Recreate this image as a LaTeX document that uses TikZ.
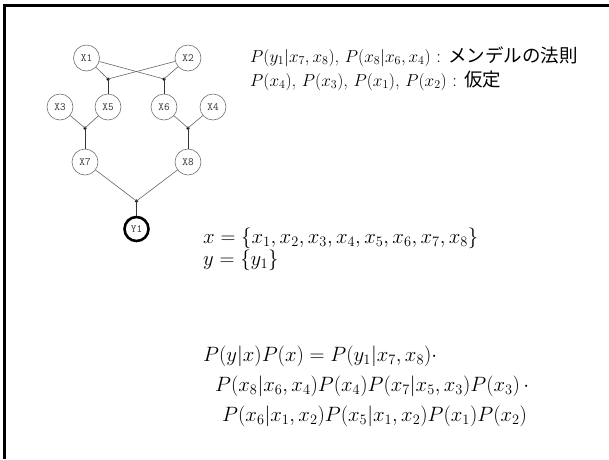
\documentclass[tikz,border=0pt]{standalone}
\usepackage{fontspec}
\newfontfamily\jp{Noto Sans CJK JP}
\begin{document}
\begin{tikzpicture}[x=1pt,y=-1pt,
  var/.style={circle,draw=black!55,line width=0.6pt,minimum size=26pt,inner sep=0pt,text=black!80,font=\ttfamily\fontsize{11}{12}\selectfont},
  obs/.style={var,draw=black,text=black!80,line width=2.6pt,minimum size=24pt},
  edge/.style={draw=black!60,line width=0.6pt},
  stem/.style={draw=black!80,line width=0.9pt},
  junc/.style={circle,fill=black,inner sep=0pt,minimum size=3.5pt},
  toptext/.style={anchor=base west,inner sep=0pt,font=\fontsize{18.5}{20}\selectfont},
  eqtext/.style={anchor=base west,inner sep=0pt,font=\fontsize{20}{22}\selectfont}]
\useasboundingbox (0,0) rectangle (609,459);
\fill[white] (0,0) rectangle (609,459);
\draw[line width=3pt] (4.5,459) -- (4.5,5) -- (609,5);
% nodes
\node[var] (x1) at (86.5,58) {X1};
\node[var] (x2) at (188,58) {X2};
\node[var] (x3) at (60,107) {X3};
\node[var] (x5) at (108,107) {X5};
\node[var] (x6) at (164,107) {X6};
\node[var] (x4) at (213,107) {X4};
\node[var] (x7) at (85,162) {X7};
\node[var] (x8) at (188,162) {X8};
\node[obs] (y1) at (136.5,229) {Y1};
\node[junc] (j5) at (108,79) {};
\node[junc] (j6) at (164,79) {};
\node[junc] (j7) at (85,128) {};
\node[junc] (j8) at (188,128) {};
\node[junc] (jy) at (136.5,201) {};
% edges
\draw[edge] (x1) -- (j5.center);
\draw[edge] (x2) -- (j5.center);
\draw[edge] (x1) -- (j6.center);
\draw[edge] (x2) -- (j6.center);
\draw[stem] (j5.center) -- (x5);
\draw[stem] (j6.center) -- (x6);
\draw[edge] (x3) -- (j7.center);
\draw[edge] (x5) -- (j7.center);
\draw[stem] (j7.center) -- (x7);
\draw[edge] (x6) -- (j8.center);
\draw[edge] (x4) -- (j8.center);
\draw[stem] (j8.center) -- (x8);
\draw[edge] (x7) -- (jy.center);
\draw[edge] (x8) -- (jy.center);
\draw[stem] (jy.center) -- (y1);
% texts
\node[toptext] (t1) at (250,62) {$P(y_1|x_7,x_8)$, $P(x_8|x_6,x_4)$ : {\jp メンデルの法則}};
\node[toptext] (t2) at (250,86) {$P(x_4)$, $P(x_3)$, $P(x_1)$, $P(x_2)$ : {\jp 仮定}};
\node[eqtext] (e1) at (203,243) {$x=\{x_1,x_2,x_3,x_4,x_5,x_6,x_7,x_8\}$};
\node[eqtext] (e2) at (203,265) {$y=\{y_1\}$};
\node[eqtext] (e3) at (203,361) {$P(y|x)P(x)=P(y_1|x_7,x_8)\cdot$};
\node[eqtext] (e4) at (215,391) {$P(x_8|x_6,x_4)P(x_4)P(x_7|x_5,x_3)P(x_3)\,\cdot$};
\node[eqtext] (e5) at (222,421) {$P(x_6|x_1,x_2)P(x_5|x_1,x_2)P(x_1)P(x_2)$};
\end{tikzpicture}
\end{document}
